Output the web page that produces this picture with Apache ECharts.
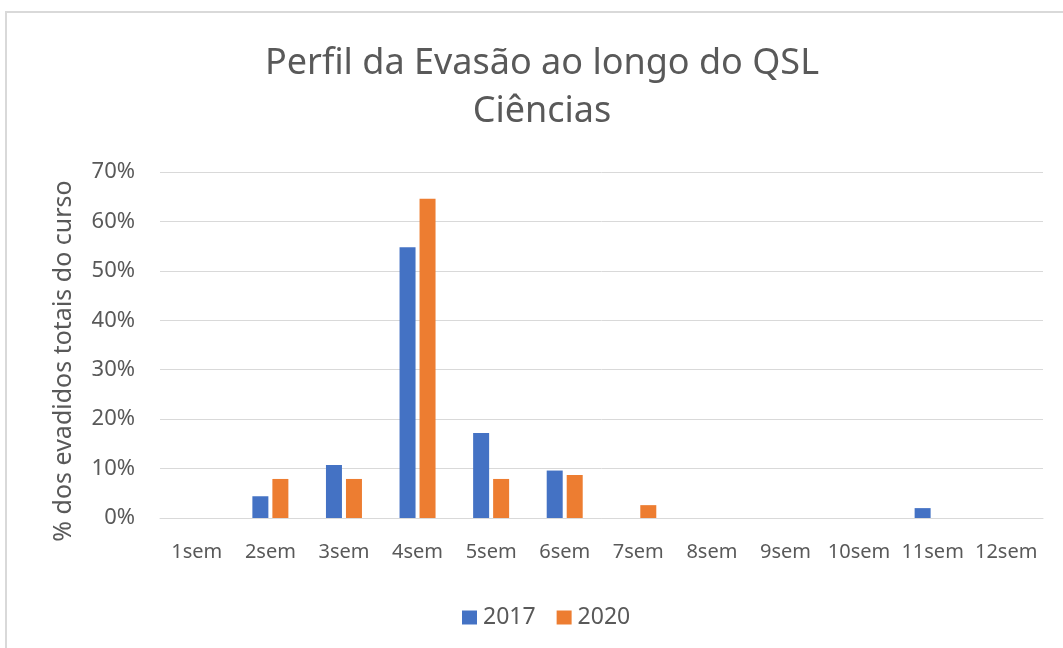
<!DOCTYPE html>
<html>
<head>
<meta charset="utf-8">
<script src="https://cdn.jsdelivr.net/npm/echarts@6/dist/echarts.min.js"></script>
<style>
  html, body { margin: 0; padding: 0; background: #fff; }
  #frame {
    position: absolute; left: 5px; top: 11px; width: 1080px; height: 660px;
    border: 2px solid #d9d9d9; box-sizing: border-box; pointer-events: none;
  }
  #chart { position: absolute; left: 0; top: 0; width: 1063px; height: 648px; }
</style>
</head>
<body>
<div id="chart"></div>
<div id="frame"></div>
<script>
// dados
const semestres = ["1sem", "2sem", "3sem", "4sem", "5sem", "6sem", "7sem", "8sem", "9sem", "10sem", "11sem", "12sem"];
const serie2017 = [0, 4.4, 10.7, 54.8, 17.2, 9.6, 0, 0, 0, 0, 2.0, 0];
const serie2020 = [0, 7.9, 7.9, 64.6, 7.9, 8.7, 2.6, 0, 0, 0, 0, 0];
const yTicks = [0, 10, 20, 30, 40, 50, 60, 70];

const fonte = "'Noto Sans', 'Open Sans', sans-serif";
const cinza = "#595959";

let chart = echarts.init(document.getElementById("chart"));

let option = {
  animation: false,
  textStyle: { fontFamily: fonte },
  title: {
    text: "Perfil da Evasão ao longo do QSL\nCiências",
    left: 537,
    top: 35,
    textAlign: "center",
    textStyle: {
      fontFamily: fonte,
      fontSize: 36,
      fontWeight: "normal",
      color: cinza,
      lineHeight: 48
    }
  },
  legend: {
    data: ["2017", "2020"],
    left: 457,
    top: 601,
    itemWidth: 15,
    itemHeight: 14,
    itemGap: 21,
    icon: "rect",
    textStyle: { fontFamily: fonte, fontSize: 23, color: cinza, padding: [0, 0, 0, 1] }
  },
  grid: { left: 160, right: 20, top: 172, bottom: 130, containLabel: false },
  xAxis: {
    type: "category",
    data: semestres,
    axisLine: { lineStyle: { color: "#d9d9d9", width: 1 } },
    axisTick: { show: false },
    axisLabel: { interval: 0, fontSize: 20, color: cinza, margin: 24, fontFamily: fonte }
  },
  yAxis: {
    type: "value",
    min: yTicks[0],
    max: yTicks[yTicks.length - 1],
    interval: 10,
    axisLine: { show: false },
    axisTick: { show: false },
    axisLabel: { formatter: "{value}%", fontSize: 22, color: cinza, margin: 25, fontFamily: fonte },
    splitLine: { lineStyle: { color: "#d9d9d9", width: 1 } }
  },
  graphic: [
    {
      type: "text",
      x: 64,
      y: 361,
      rotation: Math.PI / 2,
      style: {
        text: "% dos evadidos totais do curso",
        fontFamily: fonte,
        fontSize: 25,
        fill: cinza,
        align: "center",
        verticalAlign: "middle"
      }
    }
  ],
  series: [
    {
      name: "2017",
      type: "bar",
      data: serie2017,
      barWidth: 16,
      barGap: "25%",
      itemStyle: { color: "#4472C4" }
    },
    {
      name: "2020",
      type: "bar",
      data: serie2020,
      barWidth: 16,
      itemStyle: { color: "#ED7D31" }
    }
  ]
};

chart.setOption(option, true);
</script>
</body>
</html>
